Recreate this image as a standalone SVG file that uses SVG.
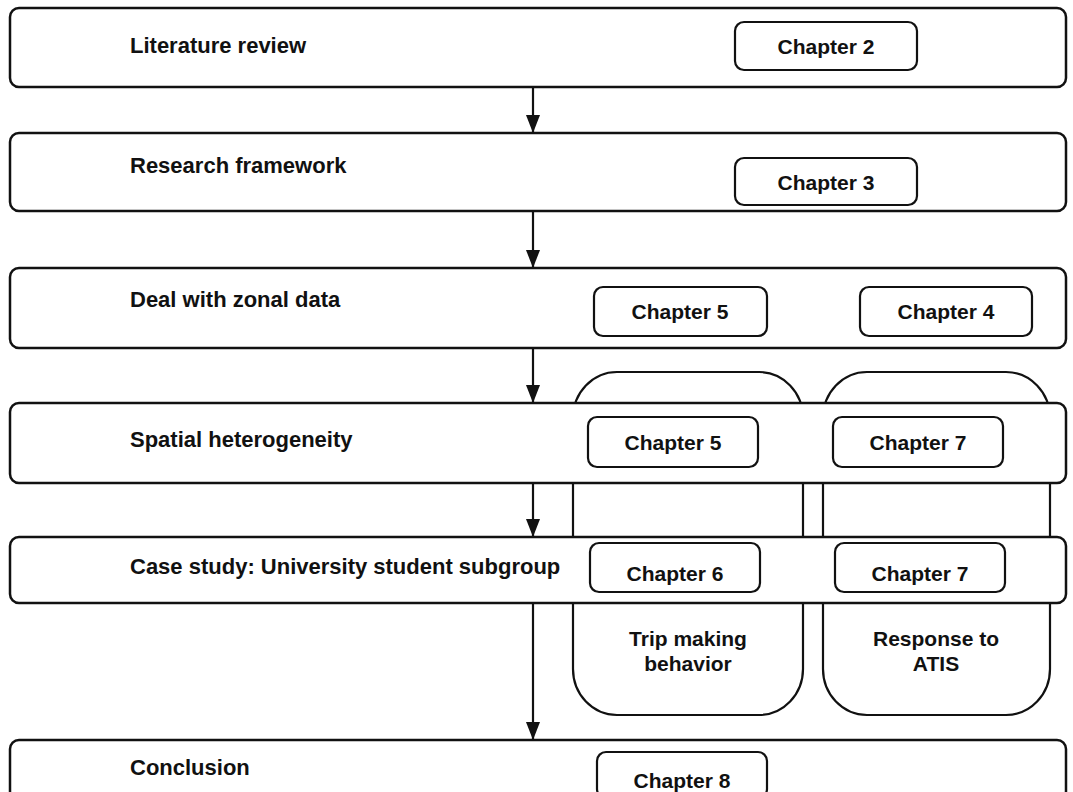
<svg xmlns="http://www.w3.org/2000/svg" width="1073" height="792" viewBox="0 0 1073 792">
  <style>
    .stage { fill: #fff; stroke: #111; stroke-width: 2.5; }
    .chap { fill: #fff; stroke: #111; stroke-width: 2.2; }
    .col { fill: #fff; stroke: #111; stroke-width: 2.2; }
    .lbl { font-family: "Liberation Sans", Arial, sans-serif; font-size: 21px; font-weight: bold; fill: #111; }
    .big { font-size: 22px; }
    .mid { text-anchor: middle; }
    .edge { stroke: #111; stroke-width: 2.2; fill: none; }
  </style>
  <defs>
    <!-- filled arrowhead, drawn along +x so orient="auto" points it down the line -->
    <marker id="arrow" markerWidth="18" markerHeight="14" refX="18" refY="7" orient="auto" markerUnits="userSpaceOnUse" viewBox="0 0 18 14">
      <path d="M0,0 L18,7 L0,14 Z" fill="#111"/>
    </marker>
  </defs>
  <rect width="1073" height="792" fill="#fff"/>

  <!-- side columns behind the stages -->
  <g id="col-trip">
    <rect class="col" x="573" y="372" width="230" height="343" rx="44" ry="46"/>
    <text class="lbl mid" x="688" y="646">Trip making</text>
    <text class="lbl mid" x="688" y="671">behavior</text>
  </g>
  <g id="col-atis">
    <rect class="col" x="823" y="372" width="227" height="343" rx="44" ry="46"/>
    <text class="lbl mid" x="936" y="646">Response to</text>
    <text class="lbl mid" x="936" y="671">ATIS</text>
  </g>

  <!-- connectors -->
  <g id="connectors">
    <line class="edge" x1="533" y1="87" x2="533" y2="133" marker-end="url(#arrow)"/>
    <line class="edge" x1="533" y1="211" x2="533" y2="268" marker-end="url(#arrow)"/>
    <line class="edge" x1="533" y1="348" x2="533" y2="403" marker-end="url(#arrow)"/>
    <line class="edge" x1="533" y1="483" x2="533" y2="537" marker-end="url(#arrow)"/>
    <line class="edge" x1="533" y1="603" x2="533" y2="740" marker-end="url(#arrow)"/>
  </g>

  <g id="stage-literature">
    <rect class="stage" x="10" y="8" width="1056" height="79" rx="9"/>
    <text class="lbl big" x="130" y="53">Literature review</text>
    <rect class="chap" x="735" y="22" width="182" height="48" rx="9"/>
    <text class="lbl mid" x="826" y="54">Chapter 2</text>
  </g>

  <g id="stage-framework">
    <rect class="stage" x="10" y="133" width="1056" height="78" rx="9"/>
    <text class="lbl big" x="130" y="173">Research framework</text>
    <rect class="chap" x="735" y="158" width="182" height="47" rx="9"/>
    <text class="lbl mid" x="826" y="190">Chapter 3</text>
  </g>

  <g id="stage-zonal">
    <rect class="stage" x="10" y="268" width="1056" height="80" rx="9"/>
    <text class="lbl big" x="130" y="307">Deal with zonal data</text>
    <rect class="chap" x="594" y="287" width="173" height="49" rx="9"/>
    <text class="lbl mid" x="680" y="319">Chapter 5</text>
    <rect class="chap" x="860" y="287" width="172" height="49" rx="9"/>
    <text class="lbl mid" x="946" y="319">Chapter 4</text>
  </g>

  <g id="stage-spatial">
    <rect class="stage" x="10" y="403" width="1056" height="80" rx="9"/>
    <text class="lbl big" x="130" y="447">Spatial heterogeneity</text>
    <rect class="chap" x="588" y="417" width="170" height="50" rx="9"/>
    <text class="lbl mid" x="673" y="450">Chapter 5</text>
    <rect class="chap" x="833" y="417" width="170" height="50" rx="9"/>
    <text class="lbl mid" x="918" y="450">Chapter 7</text>
  </g>

  <g id="stage-casestudy">
    <rect class="stage" x="10" y="537" width="1056" height="66" rx="9"/>
    <text class="lbl big" x="130" y="574">Case study: University student subgroup</text>
    <rect class="chap" x="590" y="543" width="170" height="49" rx="9"/>
    <text class="lbl mid" x="675" y="581">Chapter 6</text>
    <rect class="chap" x="835" y="543" width="170" height="49" rx="9"/>
    <text class="lbl mid" x="920" y="581">Chapter 7</text>
  </g>

  <g id="stage-conclusion">
    <rect class="stage" x="10" y="740" width="1056" height="60" rx="9"/>
    <text class="lbl big" x="130" y="775">Conclusion</text>
    <rect class="chap" x="597" y="752" width="170" height="46" rx="9"/>
    <text class="lbl mid" x="682" y="788">Chapter 8</text>
  </g>
</svg>
